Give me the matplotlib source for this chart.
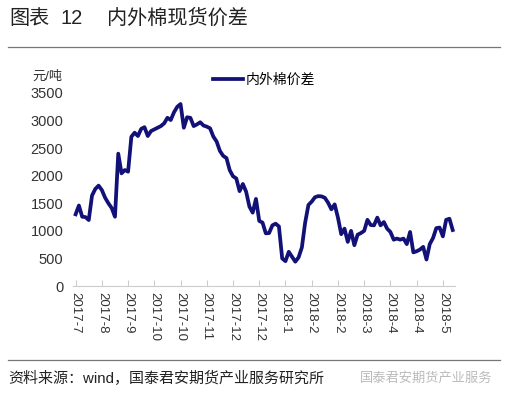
import numpy as np
import matplotlib
matplotlib.use("Agg")
import matplotlib.pyplot as plt

plt.rcParams['font.family'] = ['Liberation Sans', 'Noto Sans CJK SC', 'DejaVu Sans']

# data (one point per ~2 trading days)
spread = [
    1300, 1460, 1256, 1250, 1196, 1640, 1760, 1820, 1740, 1600,
    1500, 1414, 1256, 2400, 2043, 2103, 2073, 2707, 2780, 2720,
    2850, 2880, 2720, 2810, 2840, 2870, 2900, 2950, 3050, 3010,
    3150, 3250, 3300, 2870, 3060, 3050, 2900, 2930, 2970, 2910,
    2890, 2860, 2710, 2620, 2450, 2360, 2320, 2100, 1990, 1950,
    1720, 1850, 1710, 1440, 1330, 1580, 1180, 1150, 955, 960,
    1100, 1130, 1080, 500, 450, 620, 530, 441, 520, 700,
    1150, 1470, 1530, 1610, 1630, 1625, 1600, 1510, 1390, 1480,
    1240, 940, 1040, 800, 1000, 740, 930, 960, 1000, 1200,
    1106, 1100, 1240, 1100, 1160, 1040, 980, 840, 860, 840,
    860, 760, 980, 610, 630, 660, 710, 480, 760, 870,
    1050, 1060, 900, 1200, 1220, 1015,
]
tick_labels = [
    "2017-7", "2017-8", "2017-9", "2017-10", "2017-10", "2017-11",
    "2017-12", "2017-12", "2018-1", "2018-2", "2018-2", "2018-3",
    "2018-4", "2018-4", "2018-5",
]
y_ticks = [0, 500, 1000, 1500, 2000, 2500, 3000, 3500]
tick_step = 8

W, H = 507, 398
fig = plt.figure(figsize=(W / 100, H / 100), dpi=100)

# title and rules
fig.text(9 / W, 1 - 18 / H, "图表", fontsize=14.5, color="#222222",
         va="center", ha="left")
fig.text(61 / W, 1 - 18 / H, "12", fontsize=14.5, color="#222222",
         va="center", ha="left")
fig.text(107 / W, 1 - 18 / H, "内外棉现货价差", fontsize=14.5,
         color="#222222", va="center", ha="left")
fig.add_artist(plt.Line2D([8 / W, 500 / W], [1 - 47 / H, 1 - 47 / H],
                          color="#777777", lw=0.9))
fig.add_artist(plt.Line2D([8 / W, 500 / W], [1 - 360 / H, 1 - 360 / H],
                          color="#777777", lw=0.9))
fig.text(8 / W, 1 - 378 / H, "资料来源：wind，国泰君安期货产业服务研究所",
         fontsize=10.8, color="#222222", va="center", ha="left")
fig.text(492 / W, 1 - 378 / H, "国泰君安期货产业服务", fontsize=9.5,
         color="#bbbbbb", va="center", ha="right")

ax = fig.add_axes([73 / W, 1 - 286 / H, 382 / W, 193 / H])
x = np.arange(len(spread))
ax.plot(x, spread, color="#111177", lw=2.7, solid_joinstyle="round",
        label="内外棉价差")

ax.set_ylim(0, 3500)
ax.set_xlim(-0.8, 115.7)
ax.set_yticks(y_ticks)
ax.set_xticks(np.arange(len(tick_labels)) * tick_step)
ax.set_xticklabels(tick_labels, rotation=270, fontsize=9.5, color="#333333")
ax.tick_params(axis="y", length=0, labelsize=10.5, labelcolor="#333333", pad=7)
ax.tick_params(axis="x", direction="in", length=4, color="#cccccc", pad=4)

for s in ["top", "right", "left"]:
    ax.spines[s].set_visible(False)
ax.spines["bottom"].set_color("#cccccc")
ax.patch.set_alpha(0)

fig.text(32 / W, 1 - 77 / H, "元/吨", fontsize=9.5, color="#333333",
         va="center", ha="left")
ax.legend(loc="upper left", bbox_to_anchor=(134 / 382, 1 + 26 / 193),
          frameon=False, fontsize=10, handlelength=2.2, handletextpad=0.2,
          borderaxespad=0)

fig.savefig("out.png", dpi=100)
